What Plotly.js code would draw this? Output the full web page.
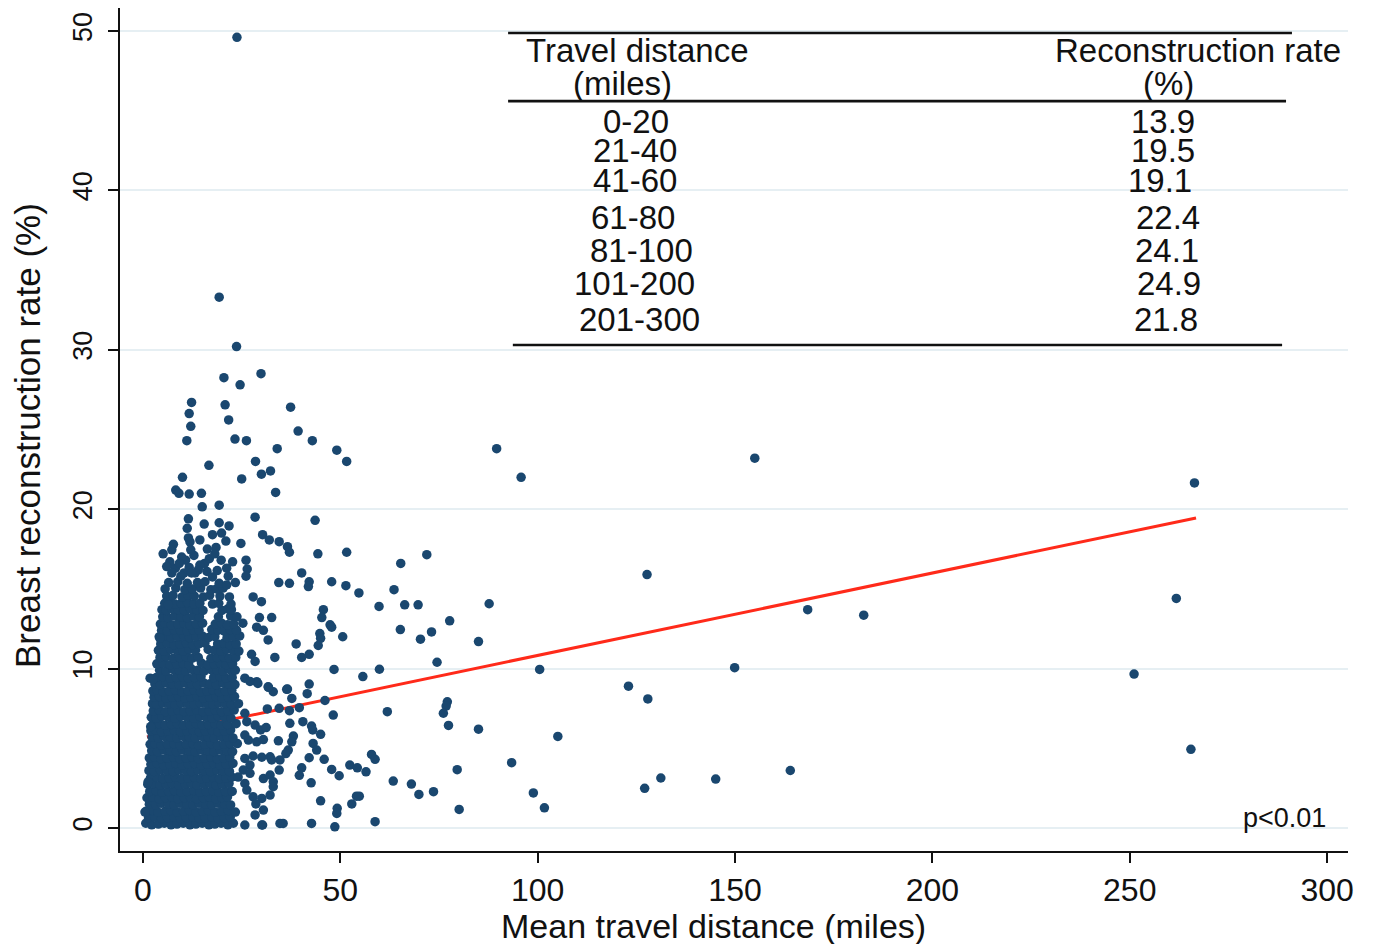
<!DOCTYPE html>
<html>
<head>
<meta charset="utf-8">
<script src="https://cdn.plot.ly/plotly-3.0.1.min.js"></script>
<style>html,body{margin:0;padding:0;background:#fff;}#chart{width:1376px;height:944px;}</style>
</head>
<body>
<div id="chart"></div>
<script>
// ---------- DATA ----------
// dense cluster with short travel distances: [miles, rate %]
const clusterPoints = [
[0.7,0.3],[2.2,0.2],[3.9,0.25],[5.4,0.3],[7.1,0.2],[8.6,0.25],[10.2,0.3],[11.9,0.2],[13.4,0.25],[15.0,0.3],[16.7,0.2],[18.2,0.25],[19.8,0.3],[21.5,0.2],[22.9,0.3],
[1.4,0.65],[3.0,0.7],[4.7,0.6],[6.2,0.65],[7.8,0.7],[9.5,0.6],[11.0,0.65],[12.6,0.7],[14.3,0.6],[15.8,0.65],[17.5,0.7],[19.0,0.6],[20.6,0.65],[22.1,0.7],
[0.8,1.05],[2.4,1.1],[3.8,1.0],[5.6,1.05],[7.0,1.1],[8.7,1.0],[10.3,1.05],[11.8,1.1],[13.5,1.0],[15.1,1.05],[16.6,1.1],[18.3,1.0],[19.9,1.05],[21.6,1.1],[23.4,1.0],
[1.6,1.5],[3.2,1.45],[4.6,1.55],[6.4,1.5],[7.9,1.45],[9.4,1.55],[11.1,1.5],[12.7,1.45],[14.2,1.55],[15.9,1.5],[17.4,1.45],[19.1,1.55],[20.7,1.5],[22.2,1.45],
[1.0,1.9],[2.5,1.95],[4.1,1.85],[5.7,1.9],[7.3,1.95],[8.8,1.85],[10.5,1.9],[12.0,1.95],[13.6,1.85],[15.3,1.9],[16.8,1.95],[18.4,1.85],[20.0,1.9],[21.4,1.95],
[1.7,2.3],[3.3,2.35],[4.9,2.25],[6.5,2.3],[8.0,2.35],[9.7,2.25],[11.2,2.3],[12.9,2.35],[14.4,2.25],[16.0,2.3],[17.7,2.35],[19.2,2.25],[20.9,2.3],[22.6,2.3],
[1.2,2.75],[2.6,2.8],[4.3,2.7],[5.8,2.75],[7.4,2.8],[9.0,2.7],[10.6,2.75],[12.2,2.8],[13.7,2.7],[15.4,2.75],[17.0,2.8],[18.5,2.7],[20.1,2.75],[21.8,2.8],
[1.9,3.15],[3.5,3.2],[5.0,3.1],[6.6,3.15],[8.2,3.2],[9.8,3.1],[11.4,3.15],[13.0,3.2],[14.6,3.1],[16.1,3.15],[17.8,3.2],[19.4,3.1],[21.0,3.15],[22.5,3.2],[24.1,3.2],
[1.5,3.6],[2.8,3.55],[4.4,3.65],[6.0,3.6],[7.6,3.55],[9.1,3.65],[10.8,3.6],[12.3,3.55],[13.9,3.65],[15.5,3.6],[17.1,3.55],[18.7,3.65],[20.3,3.6],[21.9,3.55],
[2.0,4.0],[3.6,4.05],[5.2,3.95],[6.8,4.0],[8.3,4.05],[9.9,3.95],[11.5,4.0],[13.1,4.05],[14.7,3.95],[16.3,4.0],[17.9,4.05],[19.5,3.95],[21.1,4.0],[22.8,4.05],
[1.6,4.4],[2.9,4.45],[4.5,4.35],[6.1,4.4],[7.7,4.45],[9.3,4.35],[10.9,4.4],[12.5,4.45],[14.0,4.35],[15.6,4.4],[17.2,4.45],[18.8,4.35],[20.4,4.4],[22.0,4.45],
[2.2,4.85],[3.7,4.8],[5.3,4.9],[6.9,4.85],[8.5,4.8],[10.0,4.9],[11.6,4.85],[13.2,4.8],[14.8,4.9],[16.4,4.85],[18.0,4.8],[19.6,4.9],[21.2,4.85],[22.7,4.8],
[1.8,5.25],[3.0,5.3],[4.6,5.2],[6.2,5.25],[7.8,5.3],[9.4,5.2],[11.0,5.25],[12.6,5.3],[14.1,5.2],[15.7,5.25],[17.3,5.3],[18.9,5.2],[20.5,5.25],[22.1,5.3],[23.9,5.3],
[2.3,5.7],[3.9,5.65],[5.4,5.75],[7.0,5.7],[8.6,5.65],[10.2,5.75],[11.7,5.7],[13.3,5.65],[14.9,5.75],[16.5,5.7],[18.1,5.65],[19.7,5.75],[21.3,5.7],[22.8,5.65],
[2.0,6.1],[3.1,6.15],[4.7,6.05],[6.3,6.1],[7.9,6.15],[9.5,6.05],[11.1,6.1],[12.7,6.15],[14.3,6.05],[15.8,6.1],[17.4,6.15],[19.0,6.05],[20.6,6.1],[22.2,6.15],
[2.5,6.5],[4.0,6.55],[5.6,6.45],[7.2,6.5],[8.7,6.55],[10.3,6.45],[11.9,6.5],[13.5,6.55],[15.0,6.45],[16.6,6.5],[18.2,6.55],[19.8,6.45],[21.4,6.5],[23.6,6.55],
[2.1,6.95],[3.3,6.9],[4.8,7.0],[6.4,6.95],[8.0,6.9],[9.6,7.0],[11.2,6.95],[12.8,6.9],[14.4,7.0],[16.0,6.95],[17.5,6.9],[19.1,7.0],[20.7,6.95],[22.3,6.9],
[2.6,7.35],[4.1,7.4],[5.7,7.3],[7.3,7.35],[8.9,7.4],[10.4,7.3],[12.0,7.35],[13.6,7.4],[15.2,7.3],[16.8,7.35],[18.3,7.4],[19.9,7.3],[21.5,7.35],[23.1,7.4],
[2.4,7.8],[3.4,7.75],[5.0,7.85],[6.5,7.8],[8.1,7.75],[9.7,7.85],[11.3,7.8],[12.9,7.75],[14.5,7.85],[16.1,7.8],[17.7,7.75],[19.2,7.85],[20.8,7.8],[22.4,7.75],[24.2,7.8],
[2.8,8.2],[4.2,8.25],[5.8,8.15],[7.4,8.2],[9.0,8.25],[10.6,8.15],[12.1,8.2],[13.7,8.25],[15.3,8.15],[16.9,8.2],[18.5,8.25],[20.0,8.15],[21.6,8.2],[23.2,8.25],
[2.5,8.6],[3.5,8.65],[5.1,8.55],[6.7,8.6],[8.2,8.65],[9.8,8.55],[11.4,8.6],[13.0,8.65],[14.6,8.55],[16.2,8.6],[17.8,8.65],[19.3,8.55],[20.9,8.6],[22.5,8.65],
[3.0,9.05],[4.4,9.0],[5.9,9.1],[7.5,9.05],[9.1,9.0],[10.7,9.1],[12.3,9.05],[13.8,9.0],[15.4,9.1],[17.0,9.05],[18.6,9.0],[20.2,9.1],[21.7,9.05],[23.3,9.0],
[3.4,9.45],[5.0,9.5],[6.8,9.4],[8.4,9.45],[10.0,9.5],[11.5,9.4],[13.1,9.45],[14.7,9.5],[17.9,9.45],[19.5,9.5],[21.0,9.4],[22.6,9.45],
[4.2,9.9],[5.8,9.85],[7.6,9.95],[9.2,9.9],[10.8,9.85],[12.4,9.95],[13.9,9.9],[15.5,9.85],[17.1,9.95],[18.7,9.9],[20.3,9.85],[21.8,9.95],[23.4,9.9],
[3.5,10.3],[5.1,10.35],[6.9,10.25],[8.5,10.3],[10.1,10.35],[11.6,10.25],[14.8,10.35],[16.4,10.25],[18.0,10.3],[19.6,10.35],[21.1,10.25],[22.7,10.3],
[4.3,10.7],[5.9,10.75],[7.7,10.65],[9.3,10.7],[10.9,10.75],[12.5,10.65],[14.0,10.7],[17.2,10.65],[18.8,10.7],[20.4,10.75],[21.9,10.65],[23.5,10.7],
[3.9,11.15],[5.3,11.1],[7.0,11.2],[8.6,11.15],[10.2,11.1],[11.7,11.2],[13.3,11.15],[16.5,11.2],[18.1,11.15],[19.7,11.1],[21.2,11.2],[22.8,11.15],[24.3,11.1],
[4.5,11.55],[6.1,11.6],[7.8,11.5],[9.4,11.55],[11.0,11.6],[12.6,11.5],[14.1,11.55],[15.7,11.6],[18.9,11.55],[20.5,11.6],[22.0,11.5],[23.6,11.55],
[4.1,12.0],[5.4,12.05],[7.1,11.95],[8.7,12.0],[10.3,12.05],[11.8,11.95],[13.4,12.0],[15.0,12.05],[16.6,11.95],[18.2,12.0],[21.3,11.95],[22.9,12.0],[24.5,12.05],
[4.7,12.4],[6.2,12.35],[7.9,12.45],[9.5,12.4],[11.1,12.35],[12.7,12.45],[14.2,12.4],[17.4,12.45],[19.0,12.4],[20.6,12.35],[22.1,12.45],[23.7,12.4],
[4.4,12.8],[5.5,12.85],[7.2,12.75],[8.8,12.8],[10.4,12.85],[11.9,12.75],[13.5,12.8],[15.1,12.85],[18.3,12.8],[19.9,12.85],[21.4,12.75],[23.0,12.8],[25.3,12.85],
[5.0,13.25],[6.3,13.2],[8.0,13.3],[9.6,13.25],[11.2,13.2],[12.8,13.3],[14.3,13.25],[19.1,13.25],[22.2,13.3],[23.8,13.25],
[4.8,13.7],[5.9,13.65],[7.3,13.75],[8.9,13.7],[10.5,13.65],[12.0,13.75],[13.6,13.7],[15.2,13.65],[20.0,13.65],[21.5,13.75],[22.4,13.7],
[5.5,14.1],[7.1,14.15],[8.1,14.05],[9.7,14.1],[11.3,14.15],[12.9,14.05],[14.4,14.1],[17.6,14.05],[19.2,14.1],[22.3,14.05],
[6.0,14.55],[7.6,14.6],[9.9,14.5],[11.4,14.6],[13.0,14.55],[15.3,14.5],[16.9,14.6],[19.5,14.55],[21.9,14.5],
[5.6,15.0],[8.3,15.05],[10.6,14.95],[12.5,15.0],[14.6,15.05],[17.2,14.95],[18.6,15.0],[20.3,15.05],
[6.5,15.4],[8.8,15.45],[11.2,15.35],[13.8,15.4],[15.7,15.45],[19.3,15.35],[23.4,15.4],
[10.4,16.0],[16.2,16.1],[8.2,16.3],[15.6,16.6],[10.8,16.8],[12.9,17.1],[16.8,16.9]
];

// scattered points around the cluster, 0-60 miles
const spreadPoints = [
[23.8,49.6],[19.3,33.3],[23.7,30.2],[20.5,28.25],[24.6,27.8],[29.9,28.5],[12.3,26.7],[11.7,26.0],[12.1,25.2],[11.1,24.3],
[20.8,26.55],[21.7,25.6],[37.4,26.4],[23.3,24.4],[26.2,24.3],[39.3,24.9],[42.9,24.3],[34.0,23.8],[49.1,23.7],[51.6,23.0],
[16.7,22.75],[28.5,23.0],[10.0,22.0],[30.0,22.2],[32.3,22.4],[25.0,21.9],
[8.3,21.2],[9.1,21.0],[11.7,20.95],[14.8,21.0],[33.6,21.05],[15.0,20.15],[19.3,20.25],[28.4,19.5],[43.6,19.3],[11.5,19.4],
[11.2,18.8],[15.5,19.07],[19.3,19.15],[21.8,18.95],[19.9,18.5],[17.6,18.4],[11.5,18.2],[11.9,17.95],[14.4,18.07],[21.0,18.0],
[24.8,17.85],[30.3,18.4],[32.0,18.07],[34.5,17.96],[36.6,17.65],[37.1,17.3],[44.3,17.2],[51.6,17.3],
[7.7,17.8],[7.3,17.45],[5.1,17.2],[12.1,17.45],[16.3,17.5],[18.5,17.6],[18.2,17.2],[9.8,17.0],[9.2,16.6],[6.8,16.7],
[6.0,16.4],[14.4,16.5],[14.0,16.2],[13.2,16.0],[19.8,16.8],[22.7,16.7],[26.1,16.8],[26.4,16.25],[26.1,15.8],[21.2,16.3],
[21.6,15.8],[21.2,15.25],[17.6,15.75],[18.8,16.15],[7.3,16.0],[9.6,15.8],[11.7,16.35],[12.3,16.0],
[40.2,16.0],[34.4,15.4],[37.1,15.35],[42.1,15.45],[41.9,15.15],[47.8,15.45],[51.4,15.2],[54.7,14.75],
[27.9,14.5],[30.0,14.2],[32.6,13.2],[29.5,13.2],[45.7,13.7],[45.3,13.2],[47.4,12.75],[47.8,12.6],[30.5,12.4],[31.7,11.8],
[28.8,12.6],[44.8,12.2],[45.0,11.9],[50.6,12.0],[38.8,11.55],[44.4,11.45],[42.1,10.9],[40.2,10.7],[33.4,10.7],[27.5,10.9],
[28.4,10.45],[48.4,9.95],[59.9,9.96],[55.7,9.5],[42.1,9.03],[41.6,8.43],[36.6,8.72],[37.7,8.13],[33.0,8.55],[31.8,8.83],
[28.8,9.18],[46.1,8.0],[25.8,9.4],[27.1,9.2],[29.1,9.07],[31.7,8.86],[36.4,8.7],
[34.5,7.51],[37.1,7.36],[39.6,7.55],[31.5,7.47],[48.2,7.09],[37.2,6.57],[40.5,6.67],[42.7,6.4],[43.0,6.15],[45.0,5.88],
[38.1,5.77],[37.7,5.41],[36.8,4.89],[34.3,5.47],[43.1,5.31],[44.0,4.89],[45.9,4.31],[42.1,4.41],[52.4,3.95],[54.3,3.78],
[56.5,3.53],[57.9,4.62],[58.8,4.31],[47.8,3.68],[49.7,3.28],[40.2,3.78],[39.6,3.31],[34.7,4.27],[42.6,2.84],
[45.0,1.71],[49.2,1.24],[49.1,0.92],[52.9,1.51],[54.1,2.0],[54.8,2.0],[58.8,0.4],[42.7,0.29],[48.6,0.08],[34.7,0.29],
[35.5,0.29],[30.3,0.19],
[25.8,7.2],[26.3,6.67],[28.4,6.46],[29.8,6.15],[31.2,6.3],[25.8,5.83],[26.7,5.52],[28.8,5.41],[30.5,5.55],[36.2,4.67],
[25.8,4.37],[27.9,4.52],[30.1,4.44],[32.2,4.47],[32.6,4.27],[34.5,3.64],[27.1,3.95],[25.4,3.64],[27.1,3.43],[30.5,3.1],
[32.2,3.32],[33.0,2.9],[33.0,2.59],[25.8,2.8],[26.3,2.38],[27.9,1.96],[30.1,1.86],[32.2,2.07],[28.6,1.51],[30.5,1.13],
[28.4,0.82],[30.1,0.19],[25.8,0.19],
[1.8,9.4],[1.95,6.36],[4.3,11.9],[6.4,14.0],[1.3,2.9],[0.5,1.0],[2.6,9.35]
];

// isolated points farther away, 60-270 miles
const farPoints = [
[71.9,17.15],[65.3,16.6],[63.6,14.95],[59.8,13.9],[66.3,14.0],[69.7,14.0],[87.7,14.07],[77.7,13.0],[65.2,12.45],[70.3,11.85],
[73.1,12.3],[85.0,11.7],[74.5,10.4],[100.5,9.95],[61.9,7.3],[77.1,7.92],[76.8,7.65],[76.1,7.2],[77.4,6.44],[85.0,6.2],
[63.4,2.95],[68.0,2.76],[69.9,2.11],[73.6,2.28],[79.6,3.66],[80.1,1.17],
[89.6,23.8],[95.8,22.0],[155.0,23.2],[266.4,21.65],[127.7,15.9],[261.8,14.4],[168.4,13.7],[182.6,13.35],[149.9,10.06],[251.1,9.66],
[123.0,8.9],[127.9,8.1],[105.1,5.75],[93.4,4.1],[98.9,2.2],[101.7,1.27],[131.2,3.14],[145.1,3.07],[127.1,2.49],[164.0,3.61],[265.5,4.94]
];

// linear fit line endpoints
const fitMiles = [1.0, 266.8];
const fitRate = [5.71, 19.45];

// inset table
const tableHeaderLeft = ['Travel distance', '(miles)'];
const tableHeaderRight = ['Reconstruction rate', '(%)'];
const bandLabels = ['0-20', '21-40', '41-60', '61-80', '81-100', '101-200', '201-300'];
const bandRates = ['13.9', '19.5', '19.1', '22.4', '24.1', '24.9', '21.8'];

const xTicks = [0, 50, 100, 150, 200, 250, 300];
const yTicks = [0, 10, 20, 30, 40, 50];
const xTitle = 'Mean travel distance (miles)';
const yTitle = 'Breast reconstruction rate (%)';
const pValueText = 'p<0.01';

// ---------- BUILD ----------
const allPoints = clusterPoints.concat(spreadPoints, farPoints);
const xs = allPoints.map(p => p[0]);
const ys = allPoints.map(p => p[1]);

const FONT = 'Liberation Sans, Arial, Helvetica, sans-serif';
const NAVY = '#1a476f';
const INK = '#111';

const traces = [
  {
    type: 'scatter', mode: 'lines', x: fitMiles, y: fitRate,
    line: {color: '#ff2a1a', width: 3}, hoverinfo: 'skip', showlegend: false
  },
  {
    type: 'scatter', mode: 'markers', x: xs, y: ys,
    marker: {color: NAVY, size: 9.5, line: {width: 0}}, showlegend: false
  }
];

// table layout positions (data coordinates)
const headerY = [48.8, 46.7];
const rowY = [44.35, 42.53, 40.59, 38.33, 36.2, 34.13, 31.93];
const leftX = [124.9, 124.7, 124.7, 124.1, 126.4, 124.4, 125.9];
const rightX = [258.4, 258.4, 257.7, 259.7, 259.4, 259.9, 259.2];

const tFont = {family: FONT, size: 33, color: INK};
const annotations = [];
annotations.push({x: 125.2, y: headerY[0], text: tableHeaderLeft[0]});
annotations.push({x: 121.4, y: headerY[1], text: tableHeaderLeft[1]});
annotations.push({x: 267.3, y: headerY[0], text: tableHeaderRight[0]});
annotations.push({x: 259.7, y: headerY[1], text: tableHeaderRight[1]});
bandLabels.forEach((b, i) => {
  annotations.push({x: leftX[i], y: rowY[i], text: b});
  annotations.push({x: rightX[i], y: rowY[i], text: bandRates[i]});
});
annotations.forEach(a => {
  a.xref = 'x'; a.yref = 'y'; a.showarrow = false;
  a.xanchor = 'center'; a.yanchor = 'middle'; a.font = tFont;
});
annotations.push({
  x: 289.3, y: 0.62, xref: 'x', yref: 'y', text: pValueText, showarrow: false,
  xanchor: 'center', yanchor: 'middle', font: {family: FONT, size: 27, color: INK}
});
// axis titles as annotations (placed like the reference)
annotations.push({
  x: 0.4837, y: -0.0885, xref: 'paper', yref: 'paper', text: xTitle, showarrow: false,
  xanchor: 'center', yanchor: 'middle', font: {family: FONT, size: 34, color: INK}
});
annotations.push({
  x: -0.0749, y: 0.4923, xref: 'paper', yref: 'paper', text: yTitle, showarrow: false,
  textangle: -90, xanchor: 'center', yanchor: 'middle', font: {family: FONT, size: 35, color: INK}
});

const rule = (x0, x1, y) => ({
  type: 'line', xref: 'x', yref: 'y', x0: x0, x1: x1, y0: y, y1: y,
  line: {color: INK, width: 2.6}, layer: 'above'
});
const shapes = [rule(92.5, 291.1, 49.87), rule(92.5, 289.6, 45.6), rule(93.7, 288.6, 30.3)];

const layout = {
  width: 1376, height: 944,
  margin: {l: 120, r: 28, t: 8, b: 93},
  paper_bgcolor: '#fff', plot_bgcolor: '#fff',
  font: {family: FONT, color: INK},
  showlegend: false,
  xaxis: {
    range: [-5.83, 305.3], tickmode: 'array', tickvals: xTicks,
    ticks: 'outside', ticklen: 10, tickwidth: 2, tickcolor: INK,
    showline: true, linecolor: INK, linewidth: 2,
    showgrid: false, zeroline: false,
    tickfont: {family: FONT, size: 32, color: INK},
    automargin: false
  },
  yaxis: {
    range: [-1.44, 51.44], tickmode: 'array', tickvals: yTicks, tickangle: -90,
    ticks: 'outside', ticklen: 10, tickwidth: 2, tickcolor: INK,
    showline: true, linecolor: INK, linewidth: 2,
    showgrid: true, gridcolor: '#e6eff3', gridwidth: 2, zeroline: false,
    tickfont: {family: FONT, size: 27, color: INK},
    ticklabelstandoff: 5,
    automargin: false
  },
  annotations: annotations,
  shapes: shapes
};

Plotly.newPlot('chart', traces, layout, {staticPlot: true, displayModeBar: false});
</script>
</body>
</html>
